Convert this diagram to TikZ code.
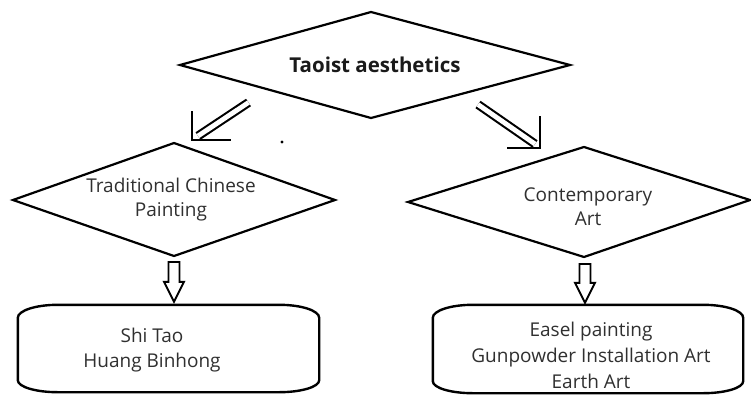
\documentclass[tikz,border=0pt]{standalone}
\usepackage{fontspec}
\setmainfont{Open Sans}
\usetikzlibrary{calc}
\definecolor{txt}{HTML}{303030}
\definecolor{ttl}{HTML}{1A1A1A}
\newcommand\capboxpath[1]{%
  \draw[boxline] ($(#1.north west)+(40,0)$) -- ($(#1.north east)+(-40,0)$)
    arc[start angle=-90, end angle=0, x radius=40, y radius=13]
    -- ($(#1.south east)+(0,-12)$)
    arc[start angle=0, end angle=90, x radius=40, y radius=12]
    -- ($(#1.south west)+(40,0)$)
    arc[start angle=90, end angle=180, x radius=40, y radius=12]
    -- ($(#1.north west)+(0,13)$)
    arc[start angle=180, end angle=270, x radius=40, y radius=13] -- cycle;}
\newcommand\hollowdown[2]{%
  \draw[blockarrow] ($(#1)+(-5.5,0)$) -- ($(#2)+(-5.5,-20)$) -- ($(#2)+(-10,-20)$)
    -- (#2) -- ($(#2)+(10,-20)$) -- ($(#2)+(5.5,-20)$) -- ($(#1)+(5.5,0)$) -- cycle;}
\begin{document}
\begin{tikzpicture}[x=1pt,y=-1pt,
  shapeline/.style={line width=2.2pt, line join=miter},
  boxline/.style={line width=2.4pt},
  blockarrow/.style={line width=1.9pt, line join=miter},
  dblshaft/.style={line width=2.1pt, double=white, double distance=4.8pt},
  headline/.style={line width=2.2pt, line cap=rect},
  lbl/.style={font=\fontsize{19}{24}\selectfont, text=txt, align=center, inner sep=0pt},
  ttlbl/.style={font=\fontsize{20.5}{22}\selectfont\bfseries, text=ttl, inner sep=0pt},
  capbox/.style={minimum width=#1, inner sep=0pt, minimum height=87pt}]
\fill[white] (0,0) rectangle (751,396);
\useasboundingbox (0,0) rectangle (751,396);

% top diamond
\coordinate (dT-l) at (180,65);
\coordinate (dT-t) at (371,12);
\coordinate (dT-r) at (570,65);
\coordinate (dT-b) at (371,118);
\draw[shapeline] (dT-l) -- (dT-t) -- (dT-r) -- (dT-b) -- cycle;
\node[ttlbl] (taoist) at (375,65) {Taoist aesthetics};

% left diamond
\coordinate (dL-l) at (13,200);
\coordinate (dL-t) at (174,143);
\coordinate (dL-r) at (335,200);
\coordinate (dL-b) at (174,256);
\draw[shapeline] (dL-l) -- (dL-t) -- (dL-r) -- (dL-b) -- cycle;
\node[lbl] (tcp) at (171,200) {Traditional Chinese\\Painting};

% right diamond
\coordinate (dR-l) at (408,202);
\coordinate (dR-t) at (584,147);
\coordinate (dR-r) at (750,200);
\coordinate (dR-b) at (584,257);
\draw[shapeline] (dR-l) -- (dR-t) -- (dR-r) -- (dR-b) -- cycle;
\node[lbl] (ca) at (588,207) {Contemporary\\Art};

% boxes
\node[capbox=301pt] (bL) at (168.5,348.5) {};
\capboxpath{bL}
\node[lbl, font=\fontsize{19}{25}\selectfont] (bLtxt) at (152,350) {Shi Tao\\Huang Binhong};

\node[capbox=310pt, minimum height=88pt] (bR) at (588,349) {};
\capboxpath{bR}
\node[lbl, font=\fontsize{19}{26}\selectfont] (bRtxt) at (591,355) {Easel painting\\Gunpowder Installation Art\\Earth Art};

% diagonal double arrows
\coordinate (laS) at (248.5,102.5);
\coordinate (laE) at (198,136);
\coordinate (laT) at (192,140);
\draw[dblshaft] (laS) -- (laE);
\draw[headline] ($(laT)+(0,-28)$) -- (laT) -- ($(laT)+(38,0)$);

\coordinate (raS) at (478,104.5);
\coordinate (raE) at (535,144);
\coordinate (raT) at (540,148);
\draw[dblshaft] (raS) -- (raE);
\draw[headline] ($(raT)+(0,-31)$) -- (raT) -- ($(raT)+(-32,0)$);

% stray dot
\fill (282,142) circle (1.7);

% vertical hollow arrows
\coordinate (vLs) at ($(dL-b)+(0,6)$);
\coordinate (vLe) at ($(vLs |- bL.north)+(0,-3)$);
\hollowdown{vLs}{vLe}
\coordinate (vRs) at ($(585,257)+(0,7)$);
\coordinate (vRe) at ($(vRs |- bR.north)+(0,-2)$);
\hollowdown{vRs}{vRe}
\end{tikzpicture}
\end{document}
